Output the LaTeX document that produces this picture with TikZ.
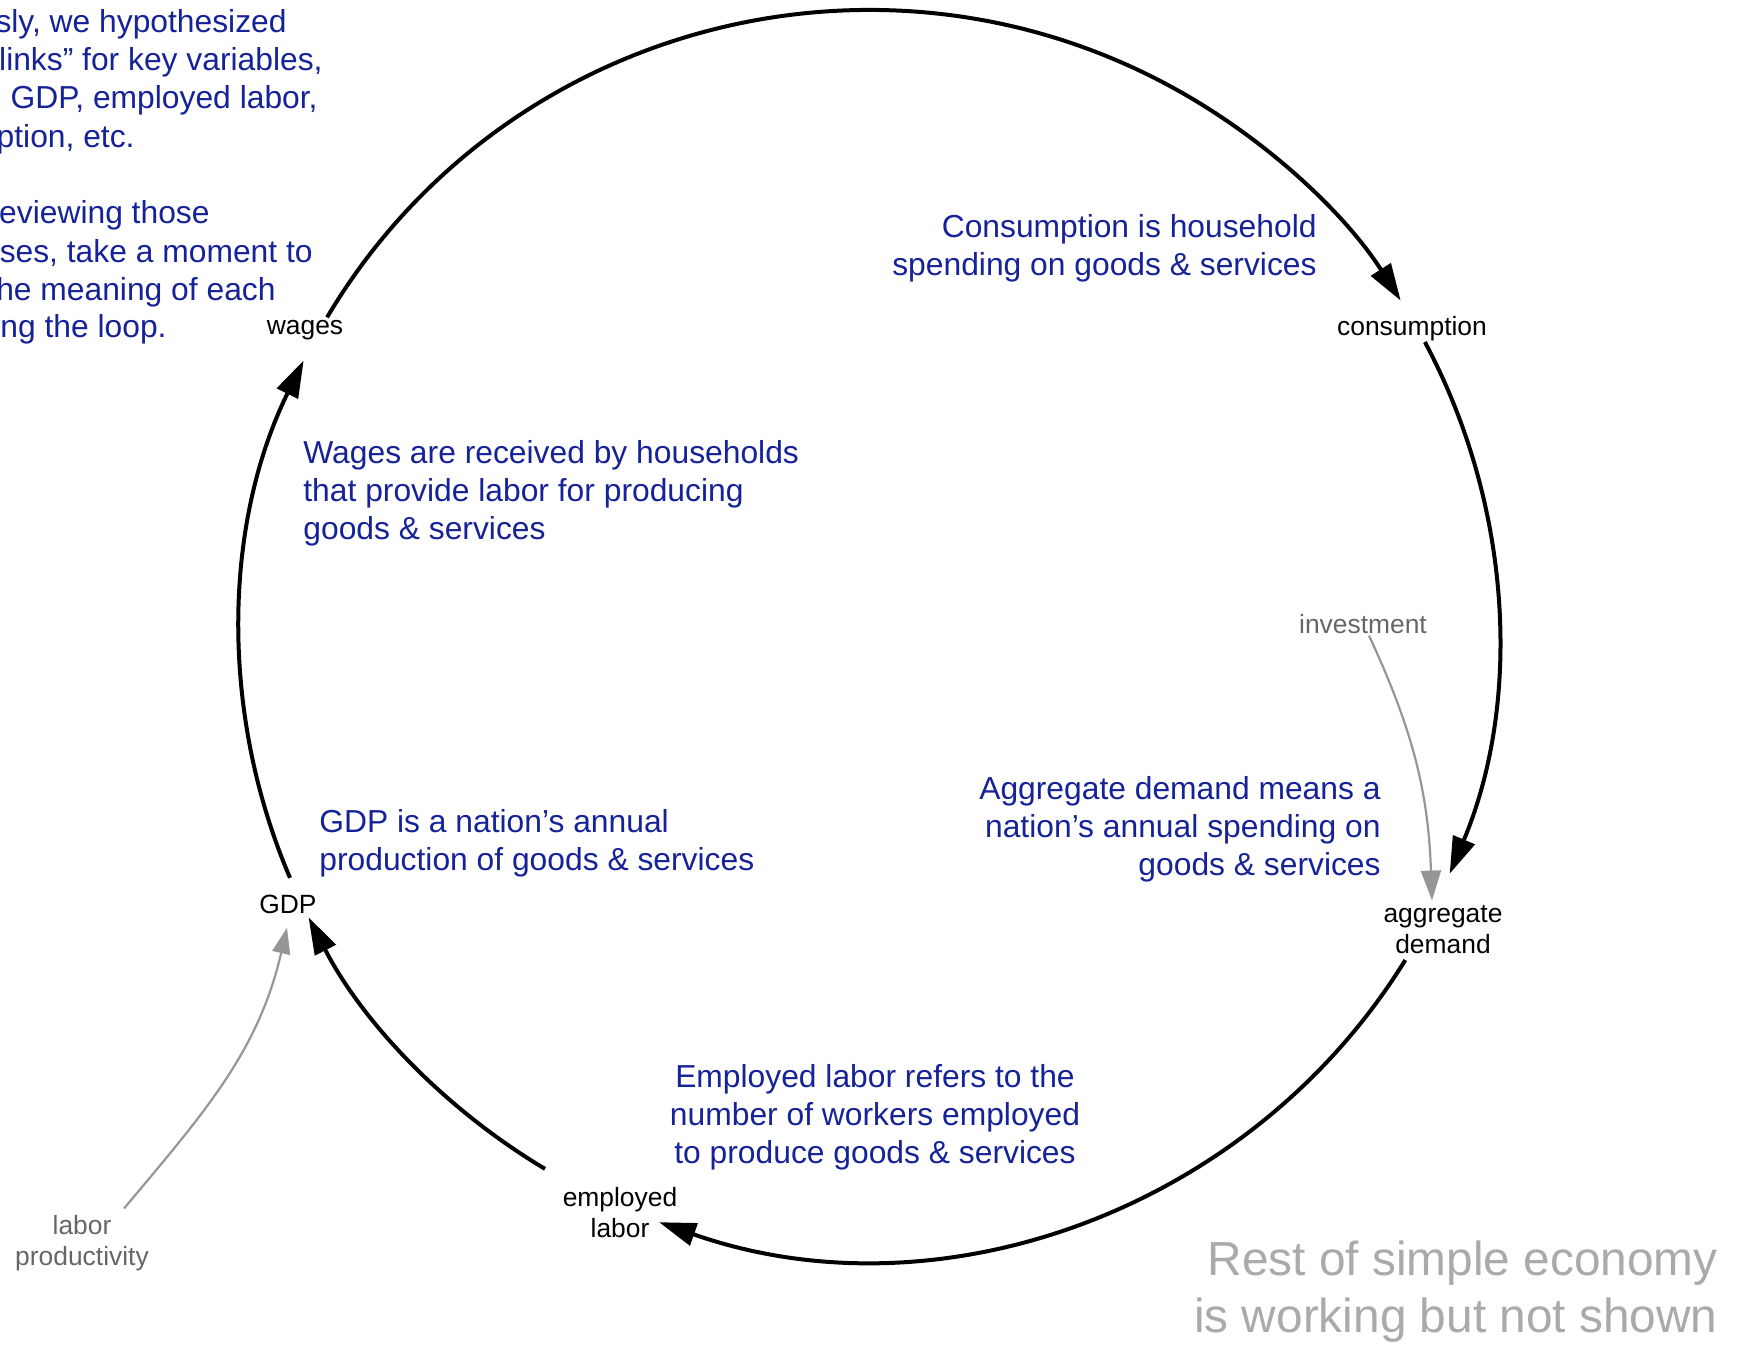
\documentclass[tikz,border=0pt]{standalone}
\usepackage{fontspec}
\setmainfont{Liberation Sans}
\usetikzlibrary{arrows.meta}
\definecolor{noteblue}{RGB}{22,34,152}
\definecolor{labelgray}{RGB}{102,102,102}
\definecolor{linkgray}{RGB}{150,150,150}
\definecolor{restgray}{RGB}{170,170,170}
\begin{document}
\begin{tikzpicture}[x=0.5pt,y=-0.5pt,
  note/.style={text=noteblue, font=\fontsize{15.9pt}{18.9pt}\selectfont, inner sep=0pt},
  var/.style={font=\fontsize{13.2pt}{15.5pt}\selectfont, inner sep=0pt, align=center, anchor=base},
  exo/.style={var, text=labelgray},
  loop/.style={line width=2pt, -{Triangle[length=18.5pt,width=11.5pt]}},
  feed/.style={line width=1.1pt, draw=linkgray, -{Triangle[length=15pt,width=10pt]}},
  restnote/.style={text=restgray, font=\fontsize{23.9pt}{28.5pt}\selectfont, inner sep=0pt, align=right, anchor=base east},
  ring/.style={x radius=314.5pt, y radius=312pt},
]
\useasboundingbox (0,0) rectangle (1740,1345);

% intro text running in from the left edge
\node[note, anchor=base east] (t1) at (287,32)  {sly, we hypothesized};
\node[note, anchor=base east] (t2) at (323,70)  {links” for key variables,};
\node[note, anchor=base east] (t3) at (318,108) {GDP, employed labor,};
\node[note, anchor=base east] (t4) at (135,147) {ption, etc.};
\node[note, anchor=base east] (t5) at (210,223) {eviewing those};
\node[note, anchor=base east] (t6) at (313,262) {ses, take a moment to};
\node[note, anchor=base east] (t7) at (276,300) {he meaning of each};
\node[note, anchor=base east] (t8) at (167,337) {ng the loop.};

% loop variables (multi-line labels are placed by their last baseline)
\node[var] (wages) at (305,334) {wages};
\node[var] (cons)  at (1412,335) {consumption};
\node[var] (ad)    at (1443,953) {aggregate\\demand};
\node[var] (el)    at (620,1237) {employed\\labor};
\node[var] (gdp)   at (288,913) {GDP};

% outside inputs
\node[exo] (inv) at (1363,633) {investment};
\node[exo] (lp)  at (82,1265) {labor\\productivity};

% explanations
\node[note, anchor=base east, align=right] (ncons) at (1317,275)
  {Consumption is household\\spending on goods \& services};
\node[note, anchor=base west, align=left] (nwages) at (303,539)
  {Wages are received by households\\that provide labor for producing\\goods \& services};
\node[note, anchor=base west, align=left] (ngdp) at (319,870)
  {GDP is a nation’s annual\\production of goods \& services};
\node[note, anchor=base east, align=right] (nad) at (1381,875)
  {Aggregate demand means a\\nation’s annual spending on\\goods \& services};
\node[note, anchor=base, align=center] (nel) at (875,1163)
  {Employed labor refers to the\\number of workers employed\\to produce goods \& services};

\node[restnote] (rest) at (1718,1332) {Rest of simple economy\\is working but not shown};

% the loop: arcs of one ellipse around the centre O
\coordinate (O) at (869,634);
\path (O) ++(149.5:314.5pt and 312pt) coordinate (wages-out);
\path (O) ++(27.9:314.5pt and 312pt)  coordinate (cons-out);
\path (O) ++(-31.5:314.5pt and 312pt) coordinate (ad-out);
\path (O) ++(-121:314.5pt and 312pt)  coordinate (el-out);
\path (O) ++(-157:314.5pt and 312pt)  coordinate (gdp-out);

\draw[loop] (wages-out) arc[ring, start angle=149.5, end angle=32.3];
\draw[loop] (cons-out)  arc[ring, start angle=27.9,  end angle=-22.6];
\draw[loop] (ad-out)    arc[ring, start angle=-31.5, end angle=-109.5];
\draw[loop] (el-out)    arc[ring, start angle=-121,  end angle=-153];
\draw[loop] (gdp-out)   arc[ring, start angle=-157,  end angle=-206];

% outside influences
\draw[feed] ([xshift=3pt,yshift=-1pt]inv.south) to[out=-65,in=92] ([xshift=-5.5pt,yshift=2pt]ad.north);
\draw[feed, -{Triangle[length=13pt,width=9pt]}] ([xshift=21pt,yshift=3pt]lp.north) to[out=50,in=-103] ([xshift=-0.5pt,yshift=-7pt]gdp.south);
\end{tikzpicture}
\end{document}
